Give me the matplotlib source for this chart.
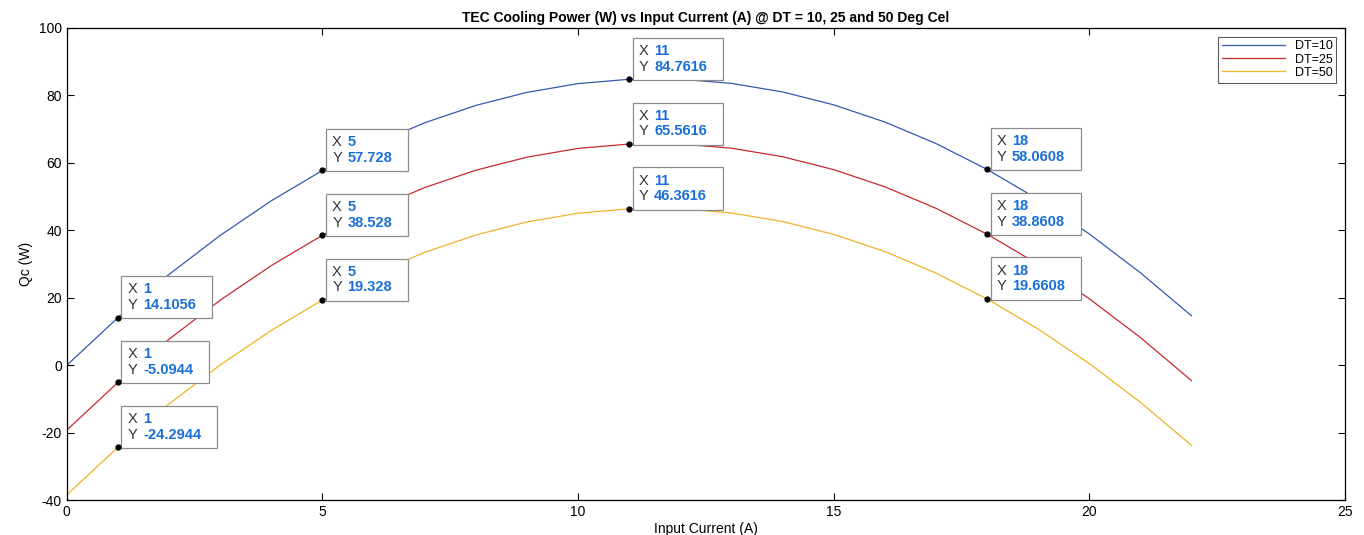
import matplotlib.pyplot as plt
from matplotlib.offsetbox import AnnotationBbox, HPacker, TextArea

plt.rcParams['font.family'] = ['Liberation Sans', 'DejaVu Sans']
plt.rcParams['axes.unicode_minus'] = False

# input current (A)
current = list(range(0, 23))

# cooling power Qc (W) at each current
qc_dt10 = [0.00, 14.11, 26.93, 38.48, 48.74, 57.73, 65.43, 71.86, 77.00, 80.87, 83.46, 84.76,
           84.79, 83.53, 81.00, 77.18, 72.09, 65.72, 58.06, 49.13, 38.91, 27.42, 14.64]
qc_dt25 = [-19.20, -5.09, 7.73, 19.28, 29.54, 38.53, 46.23, 52.66, 57.80, 61.67, 64.26, 65.56,
           65.59, 64.33, 61.80, 57.98, 52.89, 46.52, 38.86, 29.93, 19.71, 8.22, -4.56]
qc_dt50 = [-38.40, -24.29, -11.47, 0.08, 10.34, 19.33, 27.03, 33.46, 38.60, 42.47, 45.06, 46.36,
           46.39, 45.13, 42.60, 38.78, 33.69, 27.32, 19.66, 10.73, 0.51, -10.98, -23.76]

# data tips: x, y label text
tips_x = [1, 5, 11, 18]
tips_dt10 = ['14.1056', '57.728', '84.7616', '58.0608']
tips_dt25 = ['-5.0944', '38.528', '65.5616', '38.8608']
tips_dt50 = ['-24.2944', '19.328', '46.3616', '19.6608']

fig = plt.figure(figsize=(13.64, 5.35), dpi=100)
ax = fig.add_axes([0.049, 0.065, 0.937, 0.883])

ax.plot(current, qc_dt10, color='#3358b0', lw=0.9, label='DT=10')
ax.plot(current, qc_dt25, color='#c62a2f', lw=0.9, label='DT=25')
ax.plot(current, qc_dt50, color='#f0b22a', lw=0.9, label='DT=50')

for series, labels in [(qc_dt10, tips_dt10), (qc_dt25, tips_dt25), (qc_dt50, tips_dt50)]:
    for xv, lab in zip(tips_x, labels):
        yv = series[current.index(xv)]
        ax.plot(xv, yv, 'o', color='black', ms=3.5, zorder=8)
        keys = TextArea('X\nY', textprops=dict(fontsize=10.5, color='#333333', linespacing=1.15))
        vals = TextArea(str(xv) + '\n' + lab,
                        textprops=dict(fontsize=10.5, color='#1a6fd6', fontweight='bold',
                                       linespacing=1.15))
        box = HPacker(children=[keys, vals, TextArea(' ')], align='baseline', pad=0, sep=4)
        ab = AnnotationBbox(box, (xv, yv), xybox=(7, 4), xycoords='data',
                            boxcoords='offset points', box_alignment=(0, 0), pad=0.45,
                            bboxprops=dict(boxstyle='square,pad=0.45', fc='white',
                                           ec='#8c8c8c', lw=0.9),
                            frameon=True, zorder=6)
        ax.add_artist(ab)

ax.set_xlim(0, 25)
ax.set_ylim(-40, 100)
ax.set_xticks([0, 5, 10, 15, 20, 25])
ax.set_yticks(range(-40, 101, 20))
ax.tick_params(direction='in', top=True, right=True, labelsize=10, length=5, width=0.8)
for s in ax.spines.values():
    s.set_linewidth(0.9)

ax.set_title('TEC Cooling Power (W) vs Input Current (A) @ DT = 10, 25 and 50 Deg Cel',
             fontsize=10, fontweight='bold', pad=4)
ax.set_xlabel('Input Current (A)', fontsize=10, labelpad=2)
ax.set_ylabel('Qc (W)', fontsize=10, labelpad=4)

leg = ax.legend(loc='upper right', fontsize=9, fancybox=False, edgecolor='#333333',
                handlelength=5, borderaxespad=0.7, labelspacing=0.1, borderpad=0.3)
leg.get_frame().set_linewidth(0.8)

fig.savefig('out.png', dpi=100)
